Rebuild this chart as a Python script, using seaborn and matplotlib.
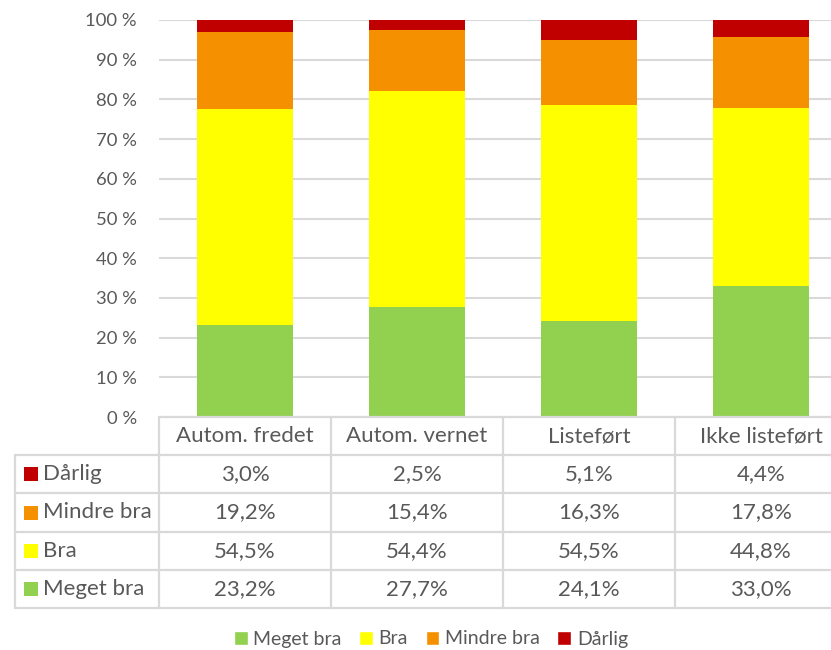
import matplotlib
matplotlib.use("Agg")
import matplotlib.pyplot as plt
import seaborn as sns
import numpy as np
from matplotlib.patches import Patch

# Data
categories = ["Autom. fredet", "Autom. vernet", "Listeført", "Ikke listeført"]
series = ["Meget bra", "Bra", "Mindre bra", "Dårlig"]
meget_bra = [23.2, 27.7, 24.1, 33.0]
bra = [54.5, 54.4, 54.5, 44.8]
mindre_bra = [19.2, 15.4, 16.3, 17.8]
darlig = [3.0, 2.5, 5.1, 4.4]
colors = ["#92D050", "#FFFF00", "#F59100", "#C00000"]

values = [meget_bra, bra, mindre_bra, darlig]

sns.set_theme(style="white")
plt.rcParams["font.family"] = ["Lato", "DejaVu Sans"]
text_col = "#595959"
grid_col = "#D9D9D9"

fig = plt.figure(figsize=(8.31, 6.5), dpi=100)
L, W = 159 / 831, 688 / 831
ax = fig.add_axes([L, 1 - 417 / 650, W, 397 / 650])

bottom = np.zeros(len(categories))
for name, vals, col in zip(series, values, colors):
    sns.barplot(x=categories, y=vals, order=categories, bottom=list(bottom),
                color=col, width=0.56, ax=ax, saturation=1, linewidth=0, zorder=3)
    bottom += np.array(vals)

ax.set_xlim(-0.5, 3.5)
ax.set_ylim(0, 100)
ax.set_yticks(range(0, 101, 10))
ax.set_yticklabels([f"{t} %" for t in range(0, 101, 10)], color=text_col, fontsize=13.3)
ax.tick_params(axis="y", length=0, pad=16)
ax.set_xticks([])
ax.set_xlabel("")
ax.set_ylabel("")
ax.yaxis.grid(True, color=grid_col, linewidth=1.5, zorder=0)
for s in ax.spines.values():
    s.set_visible(False)

# Data table below the bars
tab = fig.add_axes([L, 42 / 650, W, 191 / 650])
tab.set_xlim(-0.5, 3.5)
tab.set_ylim(5, 0)
tab.axis("off")
xl = -0.5 - 144 / 172
lw = 1.6
tab.plot([-0.5, 3.5], [0, 0], color=grid_col, lw=lw, clip_on=False)
for r in range(1, 6):
    tab.plot([xl, 3.5], [r, r], color=grid_col, lw=lw, clip_on=False)
for x in [-0.5, 0.5, 1.5, 2.5, 3.5]:
    tab.plot([x, x], [0, 5], color=grid_col, lw=lw, clip_on=False)
tab.plot([xl, xl], [1, 5], color=grid_col, lw=lw, clip_on=False)

fs = 16
for i, c in enumerate(categories):
    tab.text(i, 0.5, c, ha="center", va="center", fontsize=fs, color=text_col)

row_order = [3, 2, 1, 0]
for r, si in enumerate(row_order, start=1):
    tab.scatter([-0.5 - (159 - 31) / 172], [r + 0.5], marker="s", s=110,
                color=colors[si], clip_on=False, linewidths=0)
    tab.text(-0.5 - (159 - 43) / 172, r + 0.5, series[si], ha="left", va="center",
             fontsize=fs, color=text_col)
    for i, v in enumerate(values[si]):
        tab.text(i, r + 0.5, f"{v:.1f}%".replace(".", ","), ha="center", va="center",
                 fontsize=fs, color=text_col)

handles = [Patch(facecolor=c, label=s) for s, c in zip(series, colors)]
fig.legend(handles=handles, loc="center", bbox_to_anchor=(431 / 831, 1 - 639 / 650),
           ncol=4, frameon=False, fontsize=14, handlelength=0.7, handleheight=0.7,
           handletextpad=0.3, columnspacing=0.9, labelcolor=text_col)

fig.savefig("out.png", dpi=100)
